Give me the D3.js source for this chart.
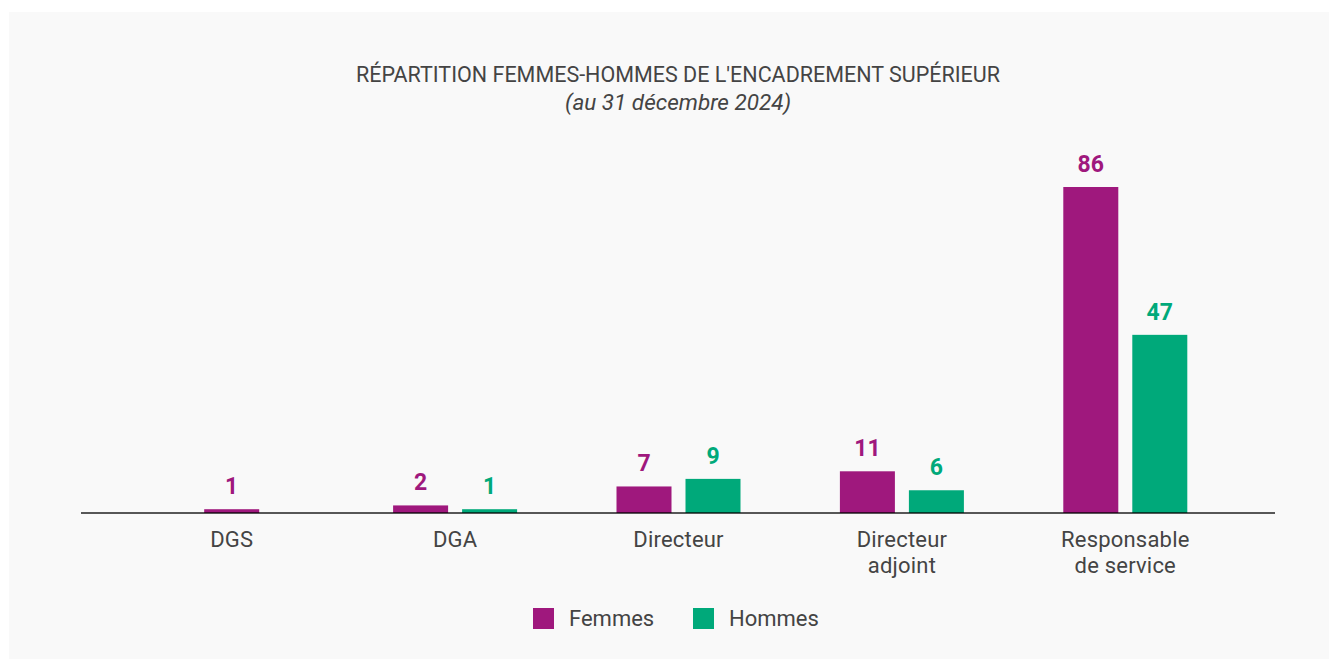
<!DOCTYPE html>
<html>
<head>
<meta charset="utf-8">
<script src="https://cdn.jsdelivr.net/npm/d3@7"></script>
<style>
html,body{margin:0;padding:0;background:#ffffff;}
svg{display:block;}
text{font-family:Roboto,"Noto Sans",sans-serif;}
</style>
</head>
<body>
<svg id="chart" width="1338" height="659"></svg>
<script>
const title = "RÉPARTITION FEMMES-HOMMES DE L'ENCADREMENT SUPÉRIEUR";
const subtitle = "(au 31 décembre 2024)";
const categories = [["DGS"], ["DGA"], ["Directeur"], ["Directeur", "adjoint"], ["Responsable", "de service"]];
const seriesNames = ["Femmes", "Hommes"];
const femmes = [1, 2, 7, 11, 86];
const hommes = [null, 1, 9, 6, 47];
const colors = ["#9f187d", "#00a97a"];

const svg = d3.select("#chart");
svg.append("rect").attr("x", 9).attr("y", 12).attr("width", 1320).attr("height", 660).attr("fill", "#f9f9f9");

const catKeys = categories.map(c => c.join(" "));
const x0 = d3.scaleBand().domain(catKeys).range([120, 1237]).padding(0);
const x1 = d3.scaleBand().domain(seriesNames).range([-62, 62]).paddingInner(14 / 69).paddingOuter(0);
const y = d3.scaleLinear().domain([0, 86]).range([513, 187]);

svg.append("text").attr("x", 678).attr("y", 82).attr("text-anchor", "middle")
  .attr("font-size", 21.5).attr("fill", "#444").text(title);
svg.append("text").attr("x", 678).attr("y", 110).attr("text-anchor", "middle")
  .attr("font-size", 22.5).attr("font-style", "italic").attr("fill", "#444").text(subtitle);

const seriesVals = [femmes, hommes];
const data = [];
catKeys.forEach((k, i) => {
  const present = seriesNames.map((s, j) => ({s, j, v: seriesVals[j][i]})).filter(d => d.v != null);
  present.forEach(d => {
    const center = x0(k) + x0.bandwidth() / 2;
    const bx = present.length === 1 ? center - x1.bandwidth() / 2 : center + x1(d.s);
    data.push({k, s: d.s, j: d.j, v: d.v, bx});
  });
});

svg.append("g").selectAll("rect").data(data).join("rect")
  .attr("x", d => d.bx).attr("width", x1.bandwidth())
  .attr("y", d => y(d.v)).attr("height", d => y(0) - y(d.v))
  .attr("fill", d => colors[d.j]);

svg.append("g").selectAll("text").data(data).join("text")
  .attr("x", d => d.bx + x1.bandwidth() / 2).attr("y", d => y(d.v) - 15)
  .attr("text-anchor", "middle").attr("font-size", 23).attr("font-weight", 700)
  .attr("fill", d => colors[d.j]).text(d => d.v);

svg.append("line").attr("x1", 81).attr("x2", 1275).attr("y1", 513).attr("y2", 513)
  .attr("stroke", "#000").attr("stroke-opacity", 0.65).attr("stroke-width", 2);

const labels = svg.append("g").selectAll("text").data(categories).join("text")
  .attr("x", (c, i) => x0(catKeys[i]) + x0.bandwidth() / 2).attr("y", 547)
  .attr("text-anchor", "middle").attr("font-size", 22).attr("letter-spacing", 0.2).attr("fill", "#444");
labels.selectAll("tspan").data(c => c).join("tspan")
  .attr("x", function() { return this.parentNode.getAttribute("x"); })
  .attr("dy", (d, i) => i === 0 ? 0 : 26).text(d => d);

const legX = [533, 693];
const leg = svg.append("g").selectAll("g").data(seriesNames).join("g");
leg.append("rect").attr("x", (d, i) => legX[i]).attr("y", 608).attr("width", 21).attr("height", 21)
  .attr("fill", (d, i) => colors[i]);
leg.append("text").attr("x", (d, i) => legX[i] + 36).attr("y", 626)
  .attr("font-size", 22).attr("fill", "#444").text(d => d);
</script>
</body>
</html>
